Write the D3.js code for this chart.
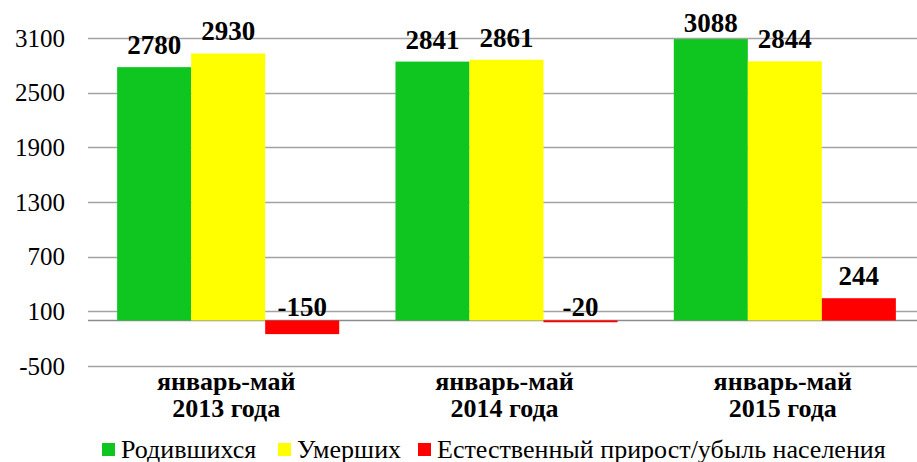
<!DOCTYPE html>
<meta charset="utf-8">
<html>
<head>
<script src="https://d3js.org/d3.v7.min.js"></script>
<style>
    body { margin: 0; background: white; }
    svg text { font-family: "Liberation Serif", serif; }
</style>
</head>
<body>
<div id="chart"></div>
<script>
// data
var periods = [["январь-май", "2013 года"], ["январь-май", "2014 года"], ["январь-май", "2015 года"]];
var seriesNames = ["Родившихся", "Умерших", "Естественный прирост/убыль населения"];
var born = [2780, 2841, 3088];
var died = [2930, 2861, 2844];
var natural = [-150, -20, 244];
var yTicks = [-500, 100, 700, 1300, 1900, 2500, 3100];

var seriesColors = ["#0fc520", "#ffff00", "#ff0000"];
var values = [born, died, natural];
const FONT = "Liberation Serif";

const W = 917, H = 462;
const svg = d3.select("#chart").append("svg")
    .attr("width", W).attr("height", H);

// scales
var y = d3.scaleLinear().domain([-500, 3100]).range([366, 38]);
var x0 = d3.scaleBand().domain(d3.range(periods.length)).range([89, 924]).padding(0);
var x1 = d3.scaleBand().domain(d3.range(seriesNames.length))
    .range([0, x0.bandwidth()]).paddingInner(0).paddingOuter(0.38);

// gridlines
svg.append("g").selectAll("line")
    .data(yTicks.concat([0]))
    .join("line")
    .attr("x1", 88).attr("x2", W)
    .attr("y1", d => Math.round(y(d)) + 0.5).attr("y2", d => Math.round(y(d)) + 0.5)
    .attr("stroke", d => d === 0 ? "#8c8c8c" : "#a3a3a3")
    .attr("stroke-width", 1.5);

// y tick labels
svg.append("g").selectAll("text")
    .data(yTicks)
    .join("text")
    .attr("x", 65)
    .attr("y", d => y(d))
    .attr("dy", "0.35em")
    .attr("text-anchor", "end")
    .attr("font-family", FONT)
    .attr("font-size", 25)
    .text(d => d);

// bars
var groups = svg.append("g").selectAll("g")
    .data(periods)
    .join("g")
    .attr("transform", (_, i) => "translate(" + x0(i) + ",0)");

groups.selectAll("rect")
    .data((_, i) => values.map((s, k) => ({ k: k, v: s[i] })))
    .join("rect")
    .attr("x", d => x1(d.k))
    .attr("width", x1.bandwidth())
    .attr("y", d => y(Math.max(0, d.v)))
    .attr("height", d => Math.max(1.5, Math.abs(y(d.v) - y(0))))
    .attr("fill", d => seriesColors[d.k]);

// value labels
groups.selectAll("text.val")
    .data((_, i) => values.map((s, k) => ({ k: k, v: s[i] })))
    .join("text")
    .attr("class", "val")
    .attr("x", d => x1(d.k) + x1.bandwidth() / 2)
    .attr("y", d => d.v < 0 ? y(0) - 4 : Math.max(32, y(d.v) - 13))
    .attr("text-anchor", "middle")
    .attr("font-family", FONT)
    .attr("font-size", 27)
    .attr("font-weight", "bold")
    .text(d => d.v);

// category labels
var cat = svg.append("g").selectAll("text")
    .data(periods)
    .join("text")
    .attr("text-anchor", "middle")
    .attr("font-family", FONT)
    .attr("font-size", 26)
    .attr("font-weight", "bold");
cat.append("tspan").attr("x", (_, i) => x0(i) + x0.bandwidth() / 2 - 2).attr("y", 390).text(d => d[0]);
cat.append("tspan").attr("x", (_, i) => x0(i) + x0.bandwidth() / 2 - 2).attr("y", 417).text(d => d[1]);

// legend
var legendX = [102, 278, 418];
var legend = svg.append("g").selectAll("g")
    .data(seriesNames)
    .join("g")
    .attr("transform", (_, i) => "translate(" + legendX[i] + ",443)");
legend.append("rect")
    .attr("width", 13).attr("height", 13)
    .attr("fill", (_, i) => seriesColors[i]);
legend.append("text")
    .attr("x", 19).attr("y", 15)
    .attr("font-family", FONT)
    .attr("font-size", 26)
    .text(d => d);
</script>
</body>
</html>
